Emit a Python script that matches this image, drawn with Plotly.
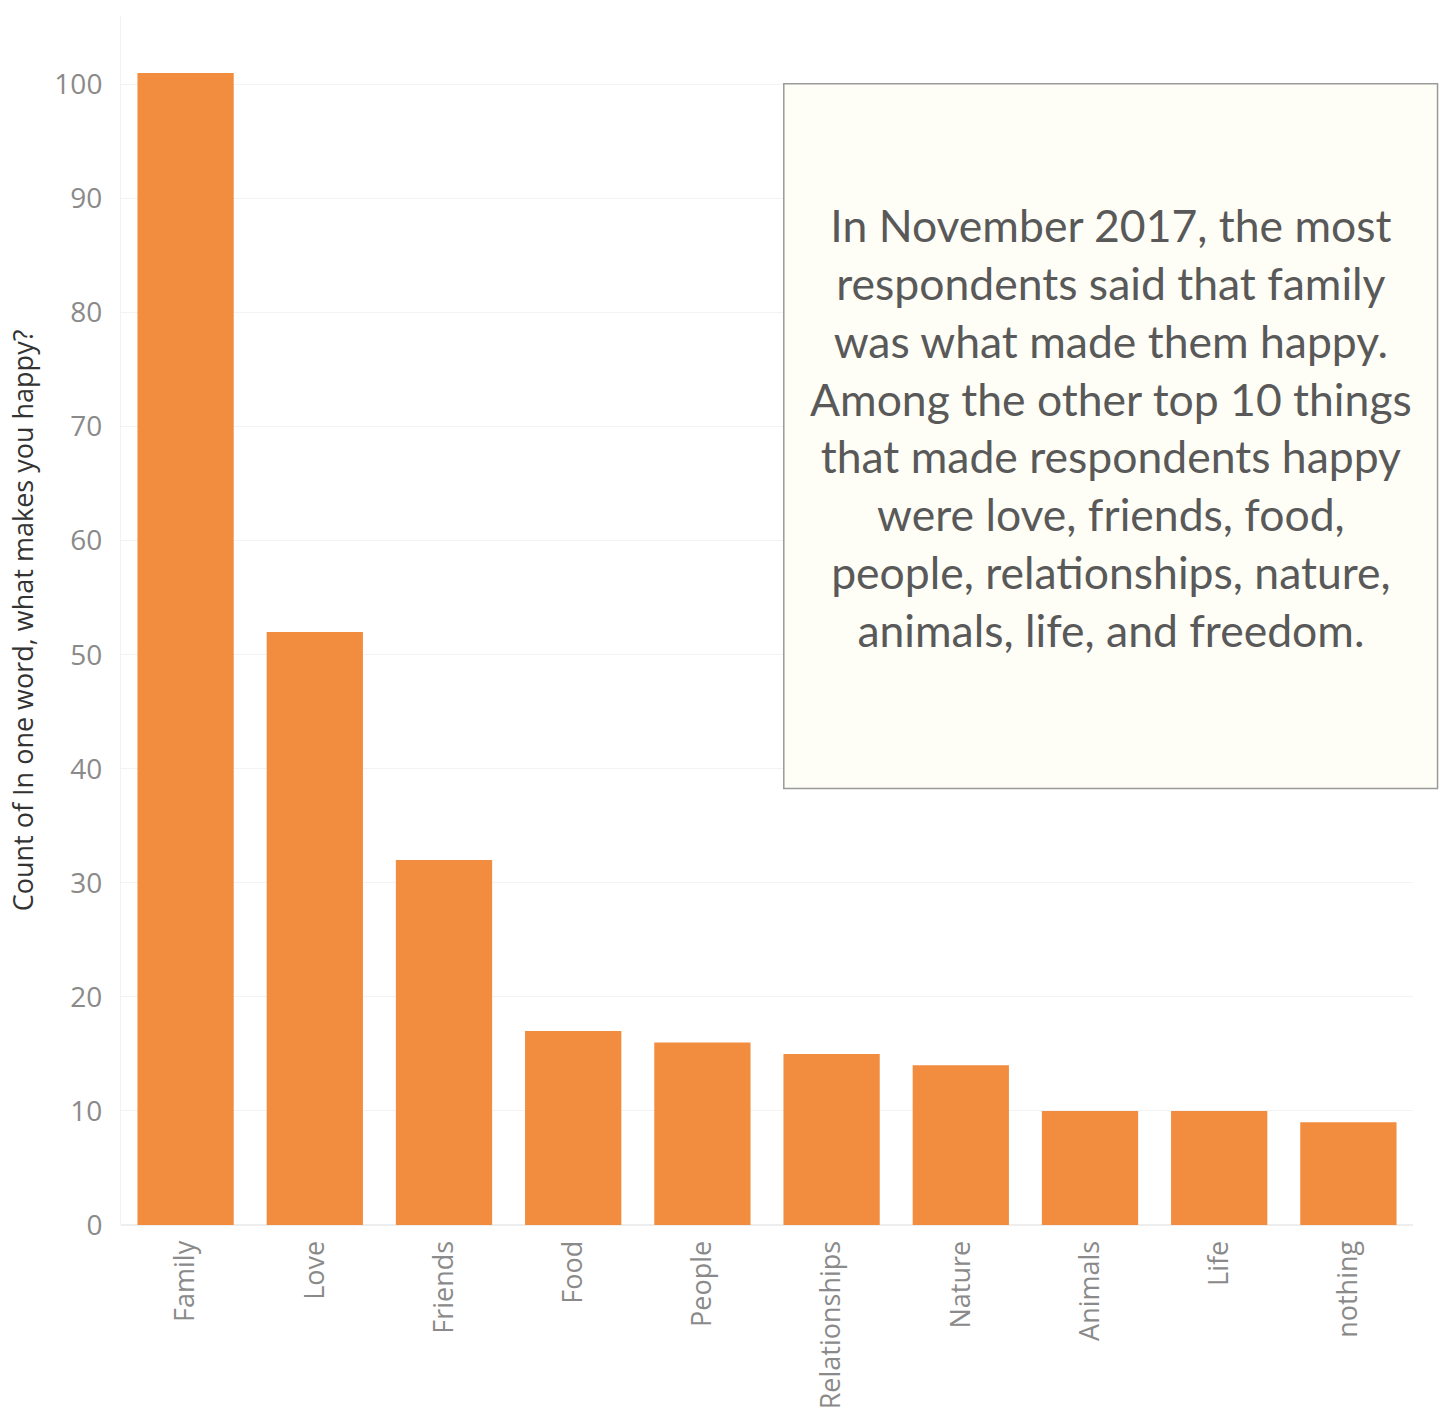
import plotly.graph_objects as go

# Top answers to "In one word, what makes you happy?"
categories = ["Family", "Love", "Friends", "Food", "People",
              "Relationships", "Nature", "Animals", "Life", "nothing"]
counts = [101, 52, 32, 17, 16, 15, 14, 10, 10, 9]
y_ticks = [0, 10, 20, 30, 40, 50, 60, 70, 80, 90, 100]

note_lines = [
    "In November 2017, the most",
    "respondents said that family",
    "was what made them happy.",
    "Among the other top 10 things",
    "that made respondents happy",
    "were love, friends, food,",
    "people, relationships, nature,",
    "animals, life, and freedom.",
]

AXIS_FONT = "'Open Sans', 'Noto Sans', sans-serif"

fig = go.Figure(
    go.Bar(
        x=categories,
        y=counts,
        marker=dict(color="#F28C3E", line=dict(width=0)),
        hoverinfo="x+y",
    )
)

fig.update_layout(
    width=1446,
    height=1413,
    margin=dict(l=121, r=33, t=16, b=188),
    paper_bgcolor="white",
    plot_bgcolor="white",
    bargap=0.255,
    showlegend=False,
    font=dict(family=AXIS_FONT, color="#888888"),
    xaxis=dict(
        automargin=False,
        tickangle=-90,
        tickfont=dict(family=AXIS_FONT, size=27, color="#8a8a8a"),
        showgrid=False,
        showline=False,
        ticks="outside",
        ticklen=4,
        tickcolor="rgba(0,0,0,0)",
    ),
    yaxis=dict(
        automargin=False,
        range=[0, 106],
        tickvals=y_ticks,
        tickfont=dict(family=AXIS_FONT, size=28, color="#8a8a8a"),
        showgrid=True,
        gridcolor="#f3f3f3",
        gridwidth=1,
        zeroline=True,
        zerolinecolor="#eeeeee",
        showline=True,
        linecolor="#f2f2f2",
        ticks="outside",
        ticklen=12,
        tickcolor="rgba(0,0,0,0)",
        title=dict(
            text="Count of In one word, what makes you happy?",
            font=dict(family=AXIS_FONT, size=27, color="#333333"),
            standoff=12,
        ),
    ),
)

# Annotation panel overlapping the upper right of the chart
fig.add_shape(
    type="rect",
    xref="paper", yref="paper",
    x0=0.513, x1=1.019, y0=0.361, y1=0.944,
    fillcolor="#fefef6",
    line=dict(color="#9a9a9a", width=1.5),
    layer="above",
)
fig.add_annotation(
    xref="paper", yref="paper",
    x=0.766, y=0.660,
    xanchor="center", yanchor="middle",
    text="<br>".join(note_lines),
    showarrow=False,
    align="center",
    font=dict(family="Lato, 'Open Sans', sans-serif", size=44.5, color="#595959"),
)

fig.write_html("out.html")
